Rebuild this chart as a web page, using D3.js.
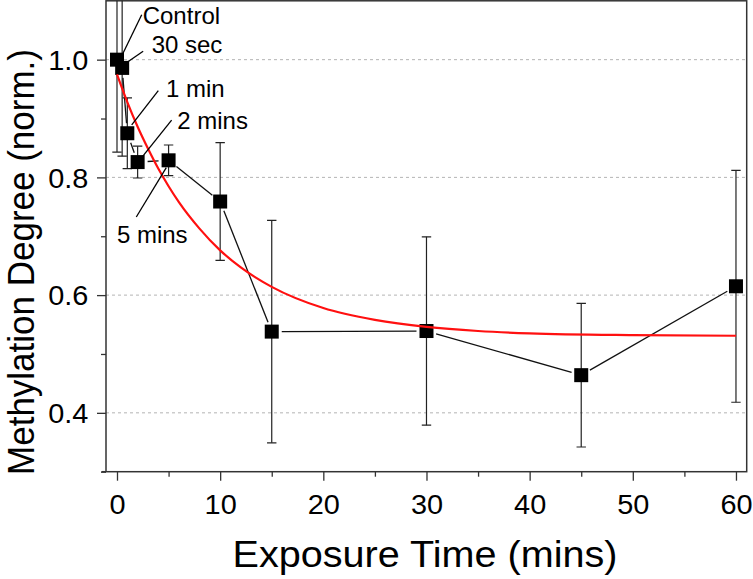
<!DOCTYPE html>
<html>
<head>
<meta charset="utf-8">
<script src="https://cdn.jsdelivr.net/npm/d3@7"></script>
<style>
  html, body { margin: 0; padding: 0; background: #fff; }
  svg { display: block; font-family: "Liberation Sans", Arial, Helvetica, sans-serif; }
</style>
</head>
<body>
<svg id="chart" width="753" height="579"></svg>
<script>
// ---------- data ----------
const times        = [0, 0.5, 1, 2, 5, 10, 15, 30, 45, 60];          // mins
const methylation  = [1.0, 0.986, 0.875, 0.826, 0.829, 0.759, 0.538, 0.539, 0.464, 0.615];
const errors       = [0.157, 0.15, 0.06, 0.027, 0.026, 0.10, 0.189, 0.16, 0.122, 0.197];
const pointLabels  = ["Control", "30 sec", "1 min", "2 mins", "5 mins"];

// red fitted curve
const fitX = [0, 1, 2, 3, 4, 5, 6, 8, 10, 12, 15, 20, 25, 30, 35, 40, 50, 60];
const fitY = [0.975, 0.928, 0.886, 0.849, 0.815, 0.785, 0.758, 0.713, 0.676, 0.647,
              0.614, 0.578, 0.558, 0.546, 0.539, 0.535, 0.532, 0.531];

const xTicks = [0, 10, 20, 30, 40, 50, 60];
const xMinorTicks = [5, 15, 25, 35, 45, 55];
const yTicks = [0.4, 0.6, 0.8, 1.0];
const yMinorTicks = [0.3, 0.5, 0.7, 0.9];

const xTitle = "Exposure Time (mins)";
const yTitle = "Methylation Degree (norm.)";

// ---------- layout ----------
const W = 753, H = 579;
const L = 106, R = 746.7, T = 0.8, B = 471.7;
const STRETCH = 1.07;
const FONT = '"Liberation Sans", Arial, Helvetica, sans-serif';

// label/pointer offsets relative to each point's centre (pixels)
const labelLayout = [
  { l1: [5.3, -5],  l2: [24.7, -45], t: [25.7, -36] },
  { l1: [5, -5.6],  l2: [21, -16.6], t: [29.5, -15] },
  { l1: [4.4, -8.3], l2: [31, -42.6], t: [38.7, -36.6] },
  { l1: [4, -4.4],  l2: [34, -42],   t: [39.6, -33.4] },
  { l1: [-2.3, 7.3], l2: [-32.3, 56.7], t: [-51.7, 83] }
];

const svg = d3.select("#chart");

const x = d3.scaleLinear().domain([-1.066, 61.04]).range([L, R]);
const y = d3.scaleLinear().domain([0.3, 1.1]).range([B, T]);

// clip
svg.append("defs").append("clipPath").attr("id", "plotclip")
  .append("rect").attr("x", L).attr("y", T).attr("width", R - L).attr("height", B - T);

// gridlines
svg.append("g").selectAll("line").data(yTicks).join("line")
  .attr("x1", L).attr("x2", R)
  .attr("y1", d => y(d)).attr("y2", d => y(d))
  .attr("stroke", "#b4b4b4").attr("stroke-width", 1)
  .attr("stroke-dasharray", "3,3");

// x axis
const gx = svg.append("g").attr("transform", `translate(0,${B})`);
gx.call(d3.axisBottom(x).tickValues(xTicks).tickSize(9).tickSizeOuter(0).tickFormat(d3.format("d")));
gx.select(".domain").remove();
gx.selectAll(".tick line").attr("stroke", "#333").attr("stroke-width", 1.3);
gx.selectAll(".tick text")
  .attr("y", 42.3).attr("dy", 0)
  .attr("font-size", 27).attr("font-family", FONT).attr("fill", "#000")
  .attr("transform", `scale(${STRETCH},1)`);
const gxm = svg.append("g").attr("transform", `translate(0,${B})`);
gxm.call(d3.axisBottom(x).tickValues(xMinorTicks).tickSize(5).tickSizeOuter(0).tickFormat(""));
gxm.select(".domain").remove();
gxm.selectAll(".tick line").attr("stroke", "#333").attr("stroke-width", 1.3);

// y axis
const gy = svg.append("g").attr("transform", `translate(${L},0)`);
gy.call(d3.axisLeft(y).tickValues(yTicks).tickSize(9).tickSizeOuter(0).tickFormat(d3.format(".1f")));
gy.select(".domain").remove();
gy.selectAll(".tick line").attr("stroke", "#333").attr("stroke-width", 1.3);
gy.selectAll(".tick text")
  .attr("x", -16.5).attr("dy", "0.36em")
  .attr("font-size", 27).attr("font-family", FONT).attr("fill", "#000")
  .attr("transform", `scale(${STRETCH},1)`);
const gym = svg.append("g").attr("transform", `translate(${L},0)`);
gym.call(d3.axisLeft(y).tickValues(yMinorTicks).tickSize(5).tickSizeOuter(0).tickFormat(""));
gym.select(".domain").remove();
gym.selectAll(".tick line").attr("stroke", "#333").attr("stroke-width", 1.3);

// frame
svg.append("rect").attr("x", L).attr("y", T).attr("width", R - L).attr("height", B - T)
  .attr("fill", "none").attr("stroke", "#333").attr("stroke-width", 1.5);
svg.append("line").attr("x1", L - 4.5).attr("x2", L).attr("y1", B).attr("y2", B)
  .attr("stroke", "#333").attr("stroke-width", 1.5);

// data
const pts = times.map((t, i) => ({ t, v: methylation[i], e: errors[i], px: x(t), py: y(methylation[i]) }));
const plot = svg.append("g").attr("clip-path", "url(#plotclip)");

// error bars
const eb = plot.append("g").attr("stroke", "#222").attr("stroke-width", 1.2);
pts.forEach(p => {
  const yTop = y(p.v + p.e), yBot = y(p.v - p.e);
  eb.append("line").attr("x1", p.px).attr("x2", p.px).attr("y1", yTop).attr("y2", yBot);
  eb.append("line").attr("x1", p.px - 4.7).attr("x2", p.px + 4.7).attr("y1", yTop).attr("y2", yTop);
  eb.append("line").attr("x1", p.px - 4.7).attr("x2", p.px + 4.7).attr("y1", yBot).attr("y2", yBot);
});

// connecting line with gap near symbols
const GAP = 10;
const segs = plot.append("g").attr("stroke", "#111").attr("stroke-width", 1.3);
for (let i = 0; i < pts.length - 1; i++) {
  const a = pts[i], b = pts[i + 1];
  const dx = b.px - a.px, dy = b.py - a.py, len = Math.hypot(dx, dy);
  if (len <= 2 * GAP) continue;
  const ux = dx / len, uy = dy / len;
  segs.append("line")
    .attr("x1", a.px + ux * GAP).attr("y1", a.py + uy * GAP)
    .attr("x2", b.px - ux * GAP).attr("y2", b.py - uy * GAP);
}

// squares
const S = 14;
plot.append("g").selectAll("rect").data(pts).join("rect")
  .attr("x", d => d.px - S / 2).attr("y", d => d.py - S / 2)
  .attr("width", S).attr("height", S).attr("fill", "#000");

// fit curve
const fitLine = d3.line().x((d, i) => x(fitX[i])).y(d => y(d)).curve(d3.curveMonotoneX);
plot.append("path").datum(fitY).attr("d", fitLine)
  .attr("fill", "none").attr("stroke", "#ff1010").attr("stroke-width", 2.2);

// annotations
const ann = svg.append("g");
pointLabels.forEach((lab, i) => {
  const p = pts[i], lay = labelLayout[i];
  ann.append("line")
    .attr("x1", p.px + lay.l1[0]).attr("y1", p.py + lay.l1[1])
    .attr("x2", p.px + lay.l2[0]).attr("y2", p.py + lay.l2[1])
    .attr("stroke", "#000").attr("stroke-width", 1.3);
  ann.append("text")
    .attr("x", p.px + lay.t[0]).attr("y", p.py + lay.t[1])
    .attr("font-size", 24).attr("font-family", FONT).attr("fill", "#000")
    .text(lab);
});

// axis titles
svg.append("text")
  .attr("transform", `translate(425,566.7) scale(${STRETCH},1)`)
  .attr("text-anchor", "middle").attr("font-size", 37).attr("font-family", FONT).attr("fill", "#000")
  .text(xTitle);
svg.append("text")
  .attr("transform", `translate(34,262) scale(1.05,1) rotate(-90)`)
  .attr("text-anchor", "middle").attr("font-size", 35).attr("font-family", FONT).attr("fill", "#000")
  .text(yTitle);
</script>
</body>
</html>
